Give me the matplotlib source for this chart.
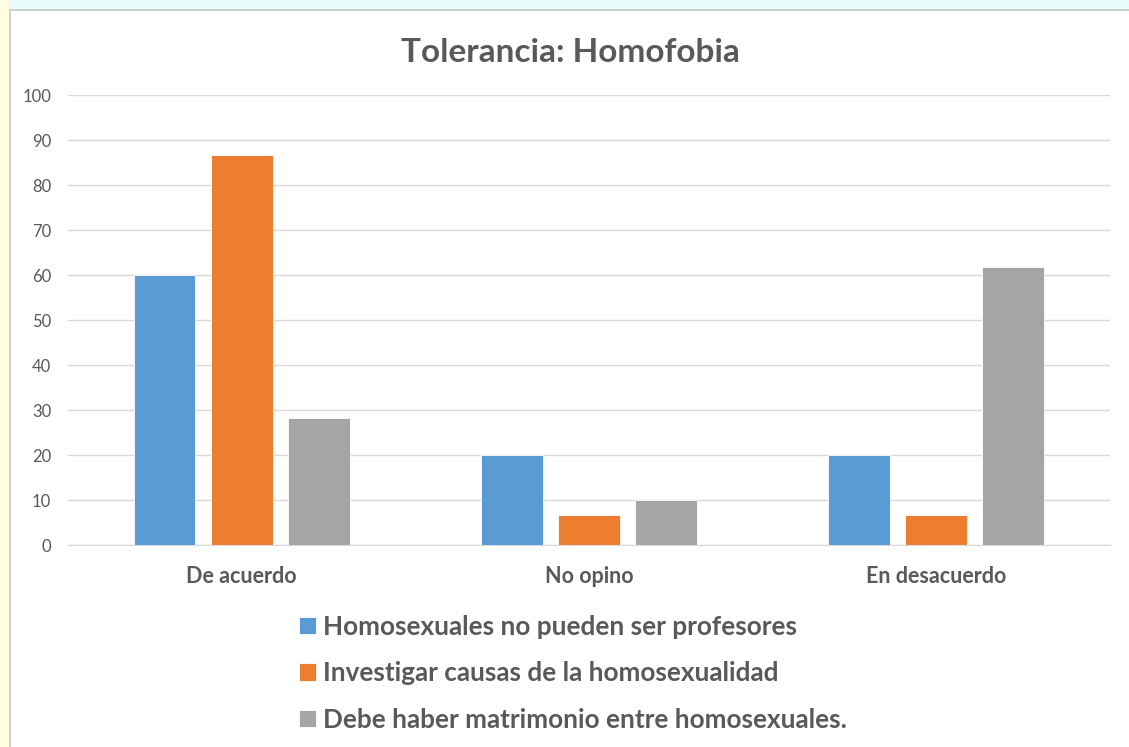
import matplotlib
matplotlib.use("Agg")
import matplotlib.pyplot as plt
import numpy as np
from matplotlib.patches import Rectangle
from matplotlib.lines import Line2D

categories = ["De acuerdo", "No opino", "En desacuerdo"]
series_names = [
    "Homosexuales no pueden ser profesores",
    "Investigar causas de la homosexualidad",
    "Debe haber matrimonio entre homosexuales.",
]
profesores = [60, 20, 20]
investigar = [86.7, 6.7, 6.7]
matrimonio = [28.3, 10, 61.7]
yticks = [0, 10, 20, 30, 40, 50, 60, 70, 80, 90, 100]

colors = ["#5B9BD5", "#ED7D31", "#A5A5A5"]
txt = "#595959"
font = ["Lato", "DejaVu Sans"]

fig = plt.figure(figsize=(11.29, 7.47), dpi=100)
fig.patch.set_facecolor("white")

# frame decorations
fig.add_artist(Rectangle((0, 0.985), 1, 0.015, transform=fig.transFigure,
                         facecolor="#E8FCFB", edgecolor="none", zorder=0))
fig.add_artist(Rectangle((0, 0), 0.008, 1, transform=fig.transFigure,
                         facecolor="#FFFDE0", edgecolor="none", zorder=0))
fig.add_artist(Line2D([0.009, 1], [0.986, 0.986], transform=fig.transFigure,
                      color="#C8C8C8", lw=1.2))
fig.add_artist(Line2D([0.009, 0.009], [0, 0.986], transform=fig.transFigure,
                      color="#C8C8C8", lw=1.2))

ax = fig.add_axes([0.0602, 0.2704, 0.9228, 0.6024])
x = np.arange(len(categories))
w = 0.178
off = 0.222
for i, (vals, name) in enumerate(zip([profesores, investigar, matrimonio], series_names)):
    ax.bar(x + (i - 1) * off, vals, width=w, color=colors[i], label=name,
           edgecolor="white", linewidth=0.6, zorder=3)

ax.set_xlim(-0.5, 2.5)
ax.set_ylim(0, 100)
ax.set_yticks(yticks)
ax.set_yticklabels([str(t) for t in yticks], fontsize=12, color=txt, family=font)
ax.set_xticks(x)
ax.set_xticklabels(categories, fontsize=15.5, color=txt, fontweight="bold", family=font)
ax.tick_params(axis="both", length=0)
ax.tick_params(axis="y", pad=12)
ax.tick_params(axis="x", pad=15)
ax.grid(axis="y", color="#D9D9D9", lw=1, zorder=0)
for s in ["top", "right", "left"]:
    ax.spines[s].set_visible(False)
ax.spines["bottom"].set_color("#D9D9D9")

fig.text(0.505, 0.93, "Tolerancia: Homofobia", ha="center", va="center",
         fontsize=24, fontweight="bold", color=txt, family=font)

leg = fig.legend(loc="upper left", bbox_to_anchor=(0.256, 0.191), frameon=False,
                 prop={"family": font, "size": 18.8, "weight": "bold"},
                 handlelength=0.64, handleheight=0.64, handletextpad=0.25,
                 labelspacing=0.86, borderaxespad=0)
for t in leg.get_texts():
    t.set_color(txt)

fig.savefig("out.png", dpi=100, facecolor="white")
